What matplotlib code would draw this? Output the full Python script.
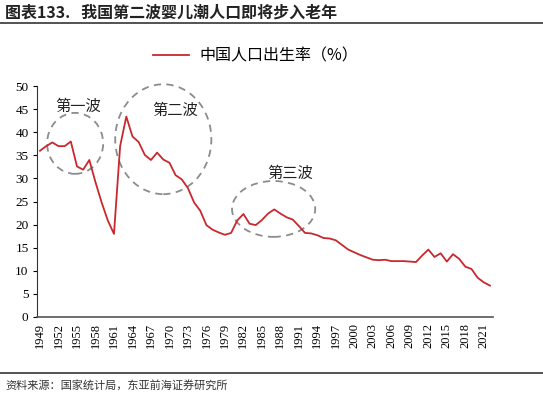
import matplotlib.pyplot as plt
from matplotlib.patches import Ellipse
from matplotlib.lines import Line2D

plt.rcParams['font.family'] = ['Noto Sans CJK SC', 'DejaVu Sans']

# 中国人口出生率 (‰), 1949-2022
years = list(range(1949, 2023))
birth_rate = [36.0, 37.0, 37.8, 37.0, 37.0, 38.0, 32.6, 31.9, 34.0, 29.2,
              24.8, 20.9, 18.0, 37.0, 43.4, 39.1, 37.9, 35.1, 34.0, 35.6,
              34.1, 33.4, 30.7, 29.8, 27.9, 24.8, 23.0, 19.9, 18.9, 18.3,
              17.8, 18.2, 20.9, 22.3, 20.2, 19.9, 21.0, 22.4, 23.3, 22.4,
              21.6, 21.1, 19.7, 18.2, 18.1, 17.7, 17.1, 17.0, 16.6, 15.6,
              14.6, 14.0, 13.4, 12.9, 12.4, 12.3, 12.4, 12.1, 12.1, 12.1,
              12.0, 11.9, 13.3, 14.6, 13.0, 13.8, 12.0, 13.6, 12.6, 10.9,
              10.4, 8.5, 7.5, 6.8]
tick_years = years[::3]

# wave markers: label, text pos, ellipse centre / size (data units)
waves = ['第一波', '第二波', '第三波']
text_pos = [(6.2, 45.6), (21.9, 44.8), (40.6, 31.2)]
ell_center = [(5.7, 37.6), (20.0, 38.5), (37.9, 23.4)]
ell_size = [(9.1, 13.2), (15.6, 23.8), (13.5, 12.1)]

fig = plt.figure(figsize=(5.43, 3.95), dpi=100)
ax = fig.add_axes([0.068, 0.1975, 0.840, 0.5845])

x = list(range(len(years)))
line, = ax.plot(x, birth_rate, color='#C8282E', lw=1.3, label='中国人口出生率（%）')

ax.set_xlim(-0.5, len(years) - 0.5)
ax.set_ylim(0, 50)
ax.set_yticks(range(0, 51, 5))
ax.set_xticks([years.index(y) for y in tick_years])
ax.set_xticklabels([str(y) for y in tick_years], rotation=90,
                   family='Liberation Serif', fontsize=9)
for t in ax.get_yticklabels():
    t.set_family('Liberation Serif')
    t.set_fontsize(9.5)
ax.tick_params(axis='x', length=0, pad=4)
ax.tick_params(axis='y', length=3, width=0.8, pad=3)
for s in ['top', 'right']:
    ax.spines[s].set_visible(False)
ax.spines['left'].set_color('#333333')
ax.spines['bottom'].set_color('#555555')
ax.spines['bottom'].set_linewidth(1.2)

for lab, tp, c, sz in zip(waves, text_pos, ell_center, ell_size):
    ax.add_patch(Ellipse(c, sz[0], sz[1], fill=False, ec='#8C8C8C',
                         lw=1.3, ls=(0, (4, 3)), clip_on=False))
    ax.text(tp[0], tp[1], lab, ha='center', va='center', fontsize=11,
            color='#222222')

fig.legend(handles=[line], loc='center', bbox_to_anchor=(0.47, 0.858),
           frameon=False, fontsize=11.5, handlelength=2.3, handletextpad=0.6)

fig.text(0.01, 0.969, '图表133.   我国第二波婴儿潮人口即将步入老年',
         fontsize=11.5, fontweight='bold', va='center', color='#222222')
fig.add_artist(Line2D([0, 1], [0.942, 0.942], color='#444444', lw=1.3))
fig.add_artist(Line2D([0, 1], [0.056, 0.056], color='#444444', lw=1.3))
fig.text(0.01, 0.025, '资料来源：国家统计局，东亚前海证券研究所',
         fontsize=8, va='center', color='#333333')

fig.savefig('out.png', dpi=100, facecolor='white')
